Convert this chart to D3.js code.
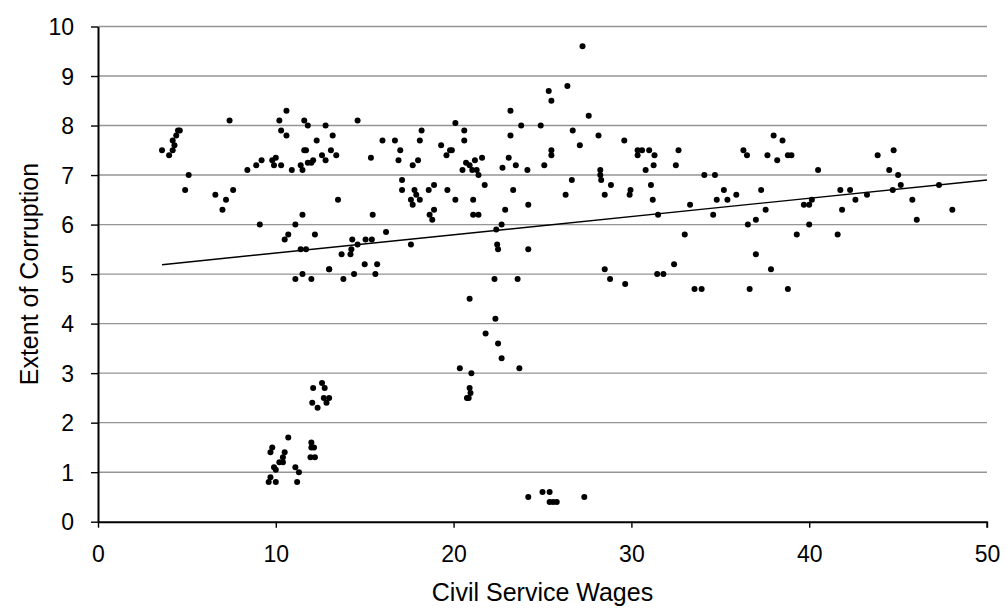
<!DOCTYPE html>
<html>
<head>
<meta charset="utf-8">
<script src="https://cdn.jsdelivr.net/npm/d3@7/dist/d3.min.js"></script>
<style>
  html, body { margin: 0; padding: 0; background: #fff; }
  svg { display: block; font-family: "Liberation Sans", Arial, sans-serif; }
</style>
</head>
<body>
<svg id="chart" width="1007" height="608"></svg>
<script>
// Civil service wages (x) against extent of corruption (y)
const wages = [
  3.6, 4.0, 4.2, 4.3, 4.2, 4.4, 4.5, 4.6, 5.1, 4.9, 7.4, 6.6, 7.2, 7.0, 7.6,
  8.4, 8.9, 9.2, 9.1, 9.8, 10.0, 9.9, 10.3, 10.2, 10.6, 10.3, 10.6, 10.9, 11.4,
  11.5, 11.6, 11.7, 11.6, 11.8, 11.8, 12.0, 12.1, 12.3, 12.6, 12.8, 12.8,
  10.5, 10.7, 11.1, 11.5, 11.4, 11.7, 12.2, 11.1, 11.5, 12.0, 13.0,
  12.1, 12.6, 12.75, 12.7, 13.0, 12.85, 12.05, 12.35,
  10.7, 9.8, 9.7, 10.5, 10.4, 10.2, 10.4, 9.9, 10.0, 11.1, 11.3, 9.7, 9.6, 10.0, 11.2,
  12.0, 12.15, 12.0, 12.2, 11.95,
  13.2, 13.1, 13.4, 14.6, 13.5, 15.35, 16.0, 15.45, 16.7, 17.0, 16.9, 17.1, 17.1,
  17.7, 18.0, 18.1, 18.2, 17.8, 17.9, 18.1, 17.6, 17.7, 18.6, 18.9, 18.65, 18.8, 18.9,
  19.3, 19.6, 19.8, 19.9, 20.1, 20.6, 20.6, 19.65, 20.1, 20.5, 20.7, 20.9, 21.05,
  21.2, 21.3, 21.4, 21.6, 21.1, 21.1, 21.4, 21.75, 22.75, 23.1, 23.2, 23.2, 23.5,
  23.8, 24.15, 23.35, 22.9, 22.7, 22.4, 22.45, 22.5, 24.2, 24.2, 24.9, 25.1, 25.5,
  25.5, 25.35, 25.5,
  14.3, 14.6, 14.25, 15.05, 15.4, 16.2, 13.7, 14.2, 13.0, 15.0, 15.7, 13.8, 14.4,
  15.6, 17.6, 22.3, 23.6,
  20.9, 22.35, 21.8, 22.5, 22.7, 20.35, 21.0, 23.7, 20.9, 20.95, 20.85, 20.75,
  24.2, 25.0, 25.4, 25.4, 25.6, 25.8, 27.35,
  27.25, 26.4, 27.6, 26.7, 27.1, 28.15, 29.6, 30.35, 30.35, 30.6, 31.0, 31.3, 31.25,
  30.8, 32.65, 32.5, 28.25, 28.25, 28.3, 28.85, 26.65, 26.3, 28.5, 29.95, 29.9,
  31.1, 31.2, 31.5, 33.3, 33.0, 34.1, 34.7, 35.2, 34.8, 35.4, 35.9, 34.6, 36.3,
  36.5, 38.0, 38.5, 37.65, 38.2, 38.8, 37.3, 37.55, 37.0, 36.55, 37.0, 37.85,
  28.5, 28.8, 29.65, 31.45, 31.8, 32.4, 33.55, 33.95, 36.65, 38.8,
  39.0, 40.5, 39.7, 40.0, 40.15, 40.0, 39.3, 41.6, 41.75, 41.85, 42.3, 42.6, 43.25,
  43.85, 44.5, 44.75, 45.0, 45.15, 44.7, 45.8, 46.05, 47.3, 48.05
];

const corruption = [
  7.5, 7.4, 7.5, 7.6, 7.7, 7.8, 7.9, 7.9, 7.0, 6.7, 8.1, 6.6, 6.5, 6.3, 6.7,
  7.1, 7.2, 7.3, 6.0, 7.3, 7.35, 7.2, 7.2, 8.1, 8.3, 7.9, 7.8, 7.1, 7.2,
  7.1, 7.5, 7.5, 8.1, 8.0, 7.25, 7.25, 7.3, 7.7, 7.4, 8.0, 7.3,
  5.7, 5.8, 6.0, 6.2, 5.5, 5.5, 5.8, 4.9, 5.0, 4.9, 5.1,
  2.7, 2.8, 2.7, 2.5, 2.5, 2.4, 2.4, 2.3,
  1.7, 1.5, 1.4, 1.4, 1.3, 1.2, 1.2, 1.1, 1.05, 1.1, 1.0, 0.9, 0.8, 0.8, 0.8,
  1.6, 1.5, 1.5, 1.3, 1.3,
  7.8, 7.5, 7.4, 8.1, 6.5, 7.35, 7.7, 6.2, 7.7, 7.5, 7.3, 6.9, 6.7,
  7.2, 7.3, 7.7, 7.9, 6.7, 6.6, 6.5, 6.5, 6.4, 6.7, 6.8, 6.2, 6.1, 6.3,
  7.6, 7.4, 7.5, 7.5, 8.05, 7.9, 7.7, 6.7, 6.5, 7.1, 7.25, 7.2, 7.1,
  7.3, 7.1, 7.0, 7.35, 6.5, 6.2, 6.2, 6.8, 7.15, 7.35, 8.3, 7.8, 7.2,
  8.0, 7.1, 6.7, 6.3, 6.0, 5.9, 5.6, 5.5, 6.4, 5.5, 8.0, 7.2, 7.4,
  7.5, 8.7, 8.5,
  5.7, 5.6, 5.5, 5.7, 5.7, 5.85, 5.4, 5.4, 5.1, 5.2, 5.2, 4.9, 5.0,
  5.0, 5.6, 4.9, 4.9,
  4.5, 4.1, 3.8, 3.6, 3.3, 3.1, 3.0, 3.1, 2.7, 2.6, 2.5, 2.5,
  0.5, 0.6, 0.6, 0.4, 0.4, 0.4, 0.5,
  9.6, 8.8, 8.2, 7.9, 7.6, 7.8, 7.7, 7.5, 7.4, 7.5, 7.5, 7.4, 7.2,
  7.1, 7.5, 7.2, 7.1, 7.0, 6.9, 6.8, 6.9, 6.6, 6.6, 6.7, 6.6,
  6.8, 6.5, 6.2, 6.4, 5.8, 7.0, 7.0, 6.7, 6.5, 6.5, 6.6, 6.2, 7.5,
  7.4, 7.8, 7.7, 7.4, 7.3, 7.4, 6.7, 6.3, 6.1, 6.0, 5.4, 5.1,
  5.1, 4.9, 4.8, 5.0, 5.0, 5.2, 4.7, 4.7, 4.7, 4.7,
  7.4, 7.1, 6.4, 6.4, 6.5, 6.0, 5.8, 5.8, 6.7, 6.3, 6.7, 6.5, 6.6,
  7.4, 7.1, 7.5, 7.0, 6.8, 6.7, 6.5, 6.1, 6.8, 6.3
];

// Linear trend line, endpoints as [wage, corruption]
const trendX = [3.6, 50];
const trendY = [5.19, 6.9];

const xTicks = [0, 10, 20, 30, 40, 50];
const yTicks = [0, 1, 2, 3, 4, 5, 6, 7, 8, 9, 10];

const svg = d3.select("#chart");
const FONT = "Liberation Sans, Arial, sans-serif";

const x = d3.scaleLinear().domain([0, 50]).range([98, 987]);
const y = d3.scaleLinear().domain([0, 10]).range([521.7, 26.5]);

// Horizontal gridlines
svg.append("g")
  .selectAll("line")
  .data(yTicks.filter(d => d > 0))
  .join("line")
  .attr("x1", x(0)).attr("x2", x(50))
  .attr("y1", d => y(d)).attr("y2", d => y(d))
  .attr("stroke", "#959595").attr("stroke-width", 1.4);

// X axis
const xAxis = d3.axisBottom(x).tickValues(xTicks).tickSize(6).tickSizeOuter(0);
const gx = svg.append("g").attr("transform", `translate(0,${y(0)})`).call(xAxis);
gx.select(".domain").attr("stroke", "#000").attr("stroke-width", 2);
gx.selectAll(".tick line").attr("stroke", "#000").attr("stroke-width", 1.4);
gx.selectAll(".tick text")
  .attr("font-family", FONT).attr("font-size", 23).attr("fill", "#000")
  .attr("y", 40).attr("dy", 0);

// Y axis
const yAxis = d3.axisLeft(y).tickValues(yTicks).tickSize(7).tickPadding(17)
  .tickSizeOuter(0);
const gy = svg.append("g").attr("transform", `translate(${x(0)},0)`).call(yAxis);
gy.select(".domain").attr("stroke", "#000").attr("stroke-width", 2);
gy.selectAll(".tick line").attr("stroke", "#000").attr("stroke-width", 1.4);
gy.selectAll(".tick text")
  .attr("font-family", FONT).attr("font-size", 23).attr("fill", "#000")
  .attr("dy", "0.35em");

// End tick at the right edge of the x axis
svg.append("line")
  .attr("x1", x(50)).attr("x2", x(50))
  .attr("y1", y(0)).attr("y2", y(0) + 6)
  .attr("stroke", "#000").attr("stroke-width", 1.4);

// Scatter points
const points = wages.map((w, i) => [w, corruption[i]]);
svg.append("g")
  .selectAll("circle")
  .data(points)
  .join("circle")
  .attr("cx", d => x(d[0]))
  .attr("cy", d => y(d[1]))
  .attr("r", 3)
  .attr("fill", "#000");

// Trend line
svg.append("line")
  .attr("x1", x(trendX[0])).attr("y1", y(trendY[0]))
  .attr("x2", x(trendX[1])).attr("y2", y(trendY[1]))
  .attr("stroke", "#000").attr("stroke-width", 1.4);

// Axis titles
svg.append("text")
  .attr("x", (x(0) + x(50)) / 2).attr("y", 601)
  .attr("text-anchor", "middle")
  .attr("font-family", FONT).attr("font-size", 25).attr("fill", "#000")
  .text("Civil Service Wages");

svg.append("text")
  .attr("transform", `translate(38,${(y(0) + y(10)) / 2}) rotate(-90)`)
  .attr("text-anchor", "middle")
  .attr("font-family", FONT).attr("font-size", 25).attr("fill", "#000")
  .text("Extent of Corruption");
</script>
</body>
</html>
